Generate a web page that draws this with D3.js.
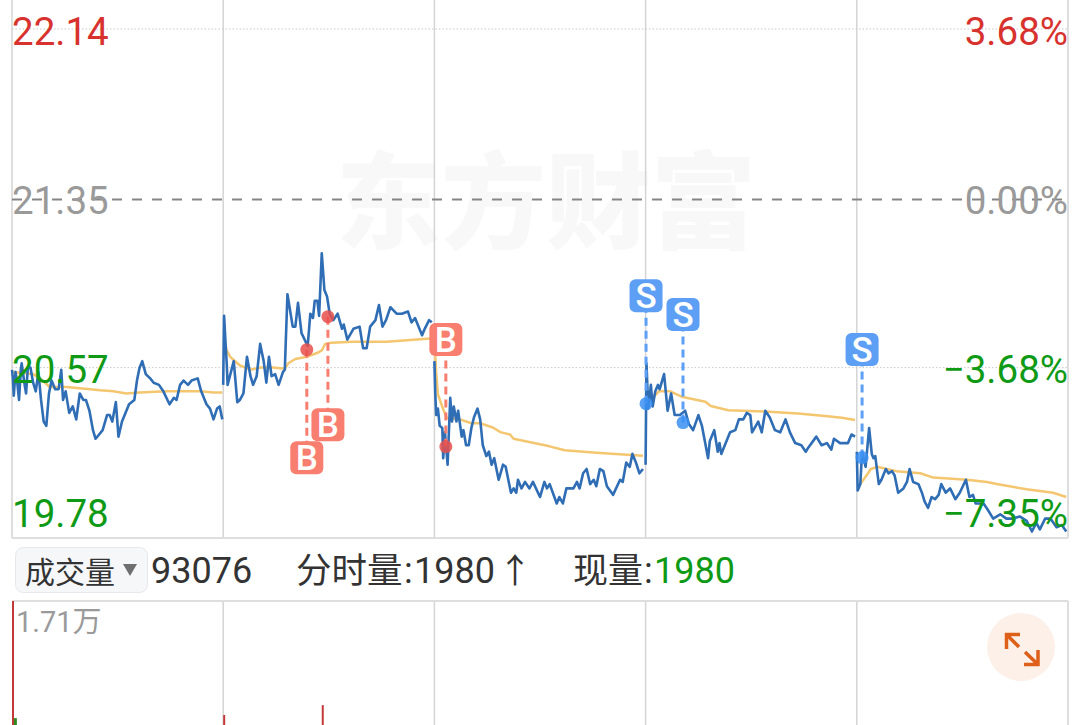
<!DOCTYPE html>
<html>
<head>
<meta charset="utf-8">
<script src="https://cdn.jsdelivr.net/npm/d3@7"></script>
<style>
  body { margin: 0; background: #fff; }
  svg { display: block; }
  text { font-family: Roboto, "Noto Sans CJK SC", sans-serif; }
</style>
</head>
<body>
<svg id="drawing_region" width="1080" height="725"></svg>
<script>
// [minute, price], one array per trading day
const day1 = [[0,20.56],[1,20.52],[2,20.44],[4,20.55],[6,20.50],[8,20.42],[10,20.56],[11,20.59],[14,20.50],[16,20.45],[18,20.57],[21,20.57],[24,20.50],[27,20.46],[30,20.55],[33,20.42],[36,20.32],[39,20.30],[42,20.45],[45,20.51],[49,20.47],[53,20.47],[56,20.56],[58,20.42],[61,20.46],[65,20.36],[69,20.39],[73,20.33],[77,20.45],[81,20.42],[84,20.42],[88,20.37],[92,20.28],[95,20.24],[99,20.26],[103,20.28],[108,20.35],[111,20.35],[114,20.32],[118,20.41],[121,20.25],[125,20.32],[130,20.37],[133,20.40],[139,20.42],[142,20.51],[145,20.57],[148,20.60],[152,20.54],[157,20.52],[161,20.50],[167,20.49],[172,20.46],[179,20.40],[184,20.43],[187,20.42],[191,20.49],[195,20.51],[200,20.49],[204,20.51],[211,20.52],[215,20.46],[221,20.40],[225,20.38],[229,20.33],[233,20.38],[236,20.39],[239,20.33]];
const day2 = [[240,20.49],[241,20.81],[243,20.66],[244,20.59],[245,20.49],[252,20.60],[256,20.41],[259,20.42],[263,20.45],[267,20.62],[271,20.53],[274,20.49],[278,20.53],[282,20.68],[286,20.60],[289,20.50],[292,20.62],[295,20.53],[299,20.54],[303,20.49],[308,20.55],[310,20.56],[313,20.91],[315,20.86],[319,20.76],[322,20.76],[325,20.87],[329,20.73],[336,20.67],[339,20.82],[342,20.80],[344,20.88],[347,20.88],[349,20.81],[352,21.10],[355,20.93],[358,20.90],[361,20.82],[365,20.79],[370,20.82],[375,20.75],[377,20.77],[381,20.70],[388,20.75],[395,20.76],[399,20.66],[403,20.66],[407,20.76],[413,20.79],[417,20.86],[421,20.76],[425,20.79],[430,20.85],[437,20.82],[443,20.82],[450,20.83],[454,20.78],[458,20.80],[466,20.72],[469,20.75],[474,20.79],[477,20.78]];
const day3 = [[480,20.60],[481,20.45],[482,20.35],[484,20.38],[486,20.30],[489,20.29],[490,20.15],[492,20.27],[495,20.12],[498,20.43],[500,20.32],[502,20.39],[505,20.32],[507,20.37],[511,20.25],[513,20.28],[516,20.21],[519,20.21],[522,20.29],[525,20.34],[529,20.38],[532,20.33],[535,20.21],[539,20.16],[542,20.18],[545,20.12],[548,20.15],[553,20.05],[558,20.12],[561,20.11],[567,19.99],[570,20.01],[573,19.99],[575,20.05],[579,20.01],[583,20.04],[588,20.01],[592,20.04],[600,19.97],[605,20.04],[608,20.01],[611,20.03],[619,19.94],[622,19.97],[626,19.94],[630,20.01],[634,20.01],[638,20.01],[642,20.04],[645,20.01],[649,20.08],[653,20.10],[657,20.03],[661,20.05],[664,20.02],[668,20.10],[672,20.09],[676,20.02],[683,19.98],[691,20.05],[694,20.04],[698,20.13],[702,20.11],[705,20.17],[709,20.13],[713,20.08],[717,20.10]];
const day4 = [[720,20.12],[721,20.59],[723,20.38],[726,20.49],[728,20.39],[731,20.46],[734,20.49],[736,20.47],[741,20.54],[745,20.37],[749,20.45],[753,20.35],[759,20.35],[765,20.37],[769,20.31],[774,20.28],[780,20.35],[784,20.30],[791,20.15],[793,20.23],[798,20.28],[802,20.18],[804,20.22],[806,20.17],[810,20.21],[816,20.27],[822,20.28],[826,20.33],[831,20.33],[835,20.36],[839,20.35],[841,20.27],[848,20.32],[852,20.27],[856,20.37],[861,20.34],[867,20.28],[873,20.27],[879,20.33],[884,20.27],[890,20.22],[897,20.21],[902,20.18],[905,20.20],[914,20.25],[920,20.21],[926,20.22],[931,20.19],[934,20.24],[941,20.22],[950,20.22],[954,20.26],[958,20.25]];
const day5 = [[960,20.18],[961,20.00],[964,20.03],[966,20.18],[970,20.11],[974,20.29],[977,20.17],[979,20.15],[981,20.16],[985,20.03],[988,20.05],[993,20.10],[996,20.08],[1000,20.09],[1003,20.07],[1007,19.99],[1013,20.01],[1017,20.04],[1020,20.10],[1024,20.04],[1030,20.03],[1034,19.99],[1037,19.95],[1041,19.92],[1045,19.97],[1049,19.96],[1053,19.98],[1056,20.03],[1061,19.99],[1066,20.01],[1072,19.96],[1077,19.99],[1084,20.05],[1088,19.97],[1092,19.98],[1095,19.94],[1104,19.94],[1109,19.91],[1115,19.87],[1123,19.89],[1130,19.87],[1138,19.87],[1145,19.88],[1153,19.86],[1159,19.81],[1164,19.85],[1168,19.82],[1174,19.87],[1180,19.87],[1187,19.83],[1193,19.84],[1198,19.81]];

const avg1 = [[0,20.55],[24,20.54],[32,20.52],[43,20.48],[62,20.48],[89,20.47],[100,20.465],[115,20.46],[130,20.45],[145,20.455],[176,20.46],[214,20.46],[229,20.455],[239,20.455]];
const avg2 = [[241,20.70],[244,20.65],[248,20.62],[259,20.58],[271,20.56],[282,20.57],[297,20.57],[310,20.565],[314,20.59],[322,20.61],[335,20.62],[348,20.64],[352,20.65],[356,20.68],[363,20.685],[388,20.69],[426,20.69],[479,20.706]];
const avg3 = [[480,20.70],[482,20.55],[484,20.446],[490,20.377],[494,20.338],[509,20.33],[522,20.312],[532,20.312],[547,20.291],[555,20.271],[566,20.26],[570,20.24],[589,20.224],[611,20.205],[628,20.187],[664,20.175],[717,20.161]];
const avg4 = [[721,20.40],[735,20.46],[748,20.46],[761,20.435],[788,20.412],[794,20.392],[814,20.372],[856,20.366],[893,20.357],[924,20.346],[943,20.338],[958,20.327]];
const avg5 = [[964,20.03],[971,20.07],[976,20.10],[983,20.11],[1005,20.09],[1032,20.08],[1047,20.06],[1085,20.05],[1108,20.04],[1119,20.03],[1153,20.006],[1183,19.99],[1198,19.97]];

// buy and sell marks: minute, price
const buys = [[335,20.653],[359,20.806],[493,20.204]];
const sells = [[720.5,20.403],[762.5,20.315],[966,20.153]];

const priceTicks = [22.14, 21.35, 20.57, 19.78];
const pctTicks = ['3.68%', '0.00%', '\u22123.68%', '\u22127.35%'];
const dayEdges = [240, 480, 720, 960];

// volume spikes visible above the crop: minute, volume
const volumeUp = [[0,17100],[240,4840],[352,5900]];
const volumeDown = [[1,4500]];

const config = {
    width: 1080, left: 12, right: 1068,
    top: 29, bottom: 538,
    volTop: 601, volBottom: 760
};
const RED = '#d8322e', GREEN = '#0f9a16', GRAY = '#9a9a9a';

const svg = d3.select('#drawing_region');
const xscale = d3.scaleLinear().domain([0, 1200]).range([config.left, config.right]);
const yscale = d3.scaleLinear().domain([19.78, 22.14]).range([config.bottom, config.top]);
const volscale = d3.scaleLinear().domain([0, 17100]).range([config.volBottom, config.volTop]);

// watermark
svg.append('text')
    .attr('x', 336).attr('y', 240)
    .attr('font-size', 105)
    .attr('font-weight', 900)
    .attr('fill', '#f8f8f8')
    .style('font-family', '"Noto Sans CJK SC"')
    .text('东方财富');

// grid
const grid = svg.append('g');
grid.selectAll('.day').data(dayEdges).enter().append('line')
    .attr('x1', d => xscale(d)).attr('x2', d => xscale(d))
    .attr('y1', 0).attr('y2', config.bottom)
    .attr('stroke', '#d4d4d4').attr('stroke-width', 1.5);
grid.selectAll('.vol').data(dayEdges).enter().append('line')
    .attr('x1', d => xscale(d)).attr('x2', d => xscale(d))
    .attr('y1', config.volTop).attr('y2', 725)
    .attr('stroke', '#d4d4d4').attr('stroke-width', 1.5);
[[config.left, 0, config.left, config.bottom], [config.right, 0, config.right, config.bottom],
 [config.left, config.bottom, config.right, config.bottom],
 [config.left, config.volTop, config.right, config.volTop],
 [config.right, config.volTop, config.right, 725]].forEach(s => {
    grid.append('line')
        .attr('x1', s[0]).attr('y1', s[1]).attr('x2', s[2]).attr('y2', s[3])
        .attr('stroke', '#dedede').attr('stroke-width', 2);
});
[22.14, 20.57].forEach(p => {
    grid.append('line')
        .attr('x1', config.left).attr('x2', config.right)
        .attr('y1', yscale(p)).attr('y2', yscale(p))
        .attr('stroke', '#c8c8c8').attr('stroke-dasharray', '1.5,2');
});
grid.append('line')
    .attr('x1', config.left).attr('x2', config.right)
    .attr('y1', yscale(21.35)).attr('y2', yscale(21.35))
    .attr('stroke', '#858585').attr('stroke-width', 2).attr('stroke-dasharray', '10,10');

// price and average lines
const line = d3.line().x(d => xscale(d[0])).y(d => yscale(d[1]));
svg.append('g').selectAll('path').data([avg1, avg2, avg3, avg4, avg5]).enter().append('path')
    .attr('d', line).attr('fill', 'none')
    .attr('stroke', '#f4c670').attr('stroke-width', 2.5).attr('stroke-linejoin', 'round');
svg.append('g').selectAll('path').data([day1, day2, day3, day4, day5]).enter().append('path')
    .attr('d', line).attr('fill', 'none')
    .attr('stroke', '#2f6db5').attr('stroke-width', 2.6).attr('stroke-linejoin', 'round');

// axis labels
const labelColor = i => i === 0 ? RED : (i === 1 ? GRAY : GREEN);
const labelY = i => i === 3 ? 527 : yscale(priceTicks[i]) + (i === 0 ? 16 : 15);
svg.append('g').selectAll('text').data(priceTicks).enter().append('text')
    .attr('x', 12).attr('y', (d, i) => labelY(i))
    .attr('font-size', 38.5).attr('fill', (d, i) => labelColor(i))
    .text(d => d.toFixed(2));
svg.append('g').selectAll('text').data(pctTicks).enter().append('text')
    .attr('x', 1068).attr('y', (d, i) => labelY(i))
    .attr('text-anchor', 'end')
    .attr('font-size', 38.5).attr('fill', (d, i) => labelColor(i))
    .text(d => d);

// buy and sell marks
function drawMarks(data, color, dotColor, letter, offset) {
    const g = svg.append('g');
    data.forEach((d, i) => {
        const x = xscale(d[0]), y = yscale(d[1]);
        const by = y + offset(i);
        g.append('line')
            .attr('x1', x).attr('x2', x).attr('y1', y).attr('y2', by)
            .attr('stroke', color).attr('stroke-width', 3).attr('stroke-dasharray', '8,5');
        g.append('circle')
            .attr('cx', x).attr('cy', y).attr('r', 6.5)
            .attr('fill', dotColor).attr('fill-opacity', 0.85);
        g.append('rect')
            .attr('x', x - 16.5).attr('y', by - 16.5)
            .attr('width', 33).attr('height', 33).attr('rx', 6)
            .attr('fill', color);
        g.append('text')
            .attr('x', x).attr('y', by + 12.5)
            .attr('text-anchor', 'middle')
            .attr('font-size', 35).attr('font-weight', 500).attr('fill', '#fff')
            .text(letter);
    });
}
drawMarks(buys, '#f87e70', '#e8504c', 'B', i => i < 2 ? 108 : -107);
drawMarks(sells, '#5d9ff5', '#3a8ff2', 'S', () => -108);

// header row
svg.append('rect')
    .attr('x', 15.5).attr('y', 547.5).attr('width', 132).attr('height', 45).attr('rx', 8)
    .attr('fill', '#f6f7f9').attr('stroke', '#e6e8eb');
svg.append('path').attr('d', 'M123,564H137L130,576Z').attr('fill', '#6f6f6f');
const header = [
    {x: 25, size: 30, text: '成交量', fill: '#333'},
    {x: 151, size: 36, text: '93076', fill: '#333'},
    {x: 296, size: 35.5, text: '分时量', fill: '#333'},
    {x: 404, size: 36, text: ':', fill: '#333'},
    {x: 414, size: 36, text: '1980', fill: '#333'},
    {x: 498, size: 34, text: '↑', fill: '#333'},
    {x: 573, size: 35, text: '现量', fill: '#333'},
    {x: 644, size: 36, text: ':', fill: '#333'},
    {x: 654, size: 36, text: '1980', fill: GREEN}
];
svg.append('g').selectAll('text').data(header).enter().append('text')
    .attr('x', d => d.x).attr('y', 583)
    .attr('font-size', d => d.size).attr('fill', d => d.fill)
    .text(d => d.text);

// volume panel
svg.append('text').attr('x', 16).attr('y', 632)
    .attr('font-size', 29).attr('fill', GRAY).text('1.71万');
svg.append('g').selectAll('rect').data(volumeUp).enter().append('rect')
    .attr('x', d => xscale(d[0])).attr('y', d => volscale(d[1]))
    .attr('width', 2).attr('height', d => config.volBottom - volscale(d[1]))
    .attr('fill', '#c5383a');
svg.append('g').selectAll('rect').data(volumeDown).enter().append('rect')
    .attr('x', d => xscale(d[0]) + 1).attr('y', d => volscale(d[1]))
    .attr('width', 3).attr('height', d => config.volBottom - volscale(d[1]))
    .attr('fill', '#2f8a22');

// expand button
svg.append('circle').attr('cx', 1021).attr('cy', 647).attr('r', 34).attr('fill', '#fdf0e8');
svg.append('path')
    .attr('d', 'M1006.5,649V634.5H1020M1006.5,634.5L1019,647M1038,650V664.5H1024M1038,664.5L1025,652')
    .attr('fill', 'none').attr('stroke', '#dd5f1a').attr('stroke-width', 3.5);
</script>
</body>
</html>
